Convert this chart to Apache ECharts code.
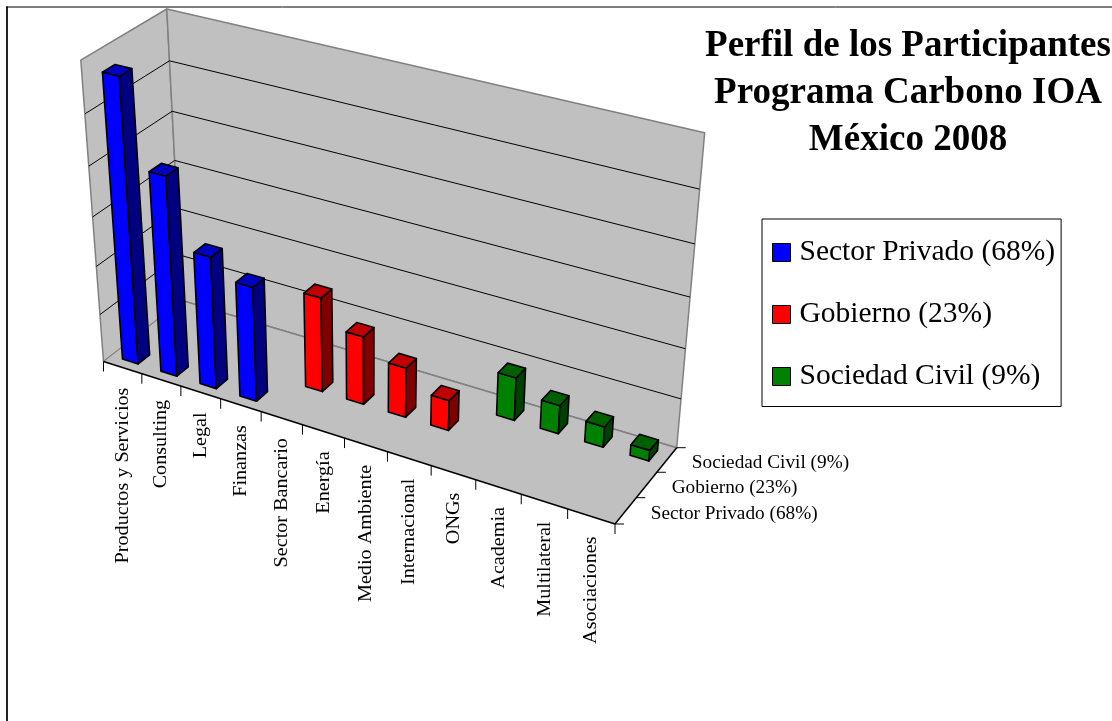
<!DOCTYPE html>
<html><head><meta charset="utf-8">
<style>html,body{margin:0;padding:0;background:#fff}#c{width:1112px;height:721px}</style>
<script src="https://cdn.jsdelivr.net/npm/echarts@6/dist/echarts.min.js"></script>
</head><body><div id="c"></div>
<script>
const categories = ['Productos y Servicios','Consulting','Legal','Finanzas','Sector Bancario','Energía','Medio Ambiente','Internacional','ONGs','Academia','Multilateral','Asociaciones'];
const rowNames = ['Sector Privado (68%)','Gobierno (23%)','Sociedad Civil (9%)'];
const privado = [28.7, 20.3, 13.5, 11.7];
const gobierno = [9.7, 7, 5.1, 3.1];
const civil = [4.4, 2.9, 2.1, 1.1];
const valueMax = 30, valueStep = 5;

const FONT = '"Liberation Serif","Times New Roman",serif';
const chart = echarts.init(document.getElementById('c'));

// camera: four floor corners, the vertical vanishing point and the wall top fix a projective map
const P00=[103.5,361.5,1],P10=[615,524,1],P01=[182,300.5,1],P11=[676.7,447.7,1],VP=[370,3900,1],wallTopY=9;
function det(a,b,c){return a[0]*(b[1]*c[2]-b[2]*c[1])-a[1]*(b[0]*c[2]-b[2]*c[0])+a[2]*(b[0]*c[1]-b[1]*c[0]);}
const neg=v=>v.map(t=>-t);
const d0=det(P10,P01,neg(P00));
const p=det(P11,P01,neg(P00))/d0, q=det(P10,P11,neg(P00))/d0, r=det(P10,P01,P11)/d0;
const D=P00.map(t=>t*r), A=P10.map((t,i)=>t*p-D[i]), B=P01.map((t,i)=>t*q-D[i]);
const K=[0,1,2].map(i=>B[i]+D[i]);
const cScale=(wallTopY*K[2]-K[1])/(VP[1]-wallTopY);
const C=VP.map(t=>t*cScale);
function proj(x,y,z){
  const h=[0,1,2].map(i=>x*A[i]+y*B[i]+z*C[i]+D[i]);
  return [h[0]/h[2],h[1]/h[2]];
}
const rows=3, barW=0.41, barD=0.43;

function poly(pts,fill,stroke,lw){
  return {type:'polygon',shape:{points:pts},style:{fill:fill,stroke:stroke||'#000',lineWidth:lw==null?1.6:lw,lineJoin:'round'}};
}
function line(a,b,color,lw){
  return {type:'line',shape:{x1:a[0],y1:a[1],x2:b[0],y2:b[1]},style:{stroke:color,lineWidth:lw||1}};
}
function barRender(row,cols){
  return function(params,api){
    const cs=params.coordSys;
    const cat=api.value(0), val=api.value(1);
    const c=api.coord([cat,val]), b=api.size([1,0])[0]/cs.width;
    const cx=(c[0]-cs.x)/cs.width, z=(cs.y+cs.height-c[1])/cs.height;
    const x0=cx-b*barW/2, x1=cx+b*barW/2;
    const y0=(row+0.5-barD/2)/rows, y1=(row+0.5+barD/2)/rows;
    return {type:'group',children:[
      poly([proj(x0,y0,0),proj(x1,y0,0),proj(x1,y0,z),proj(x0,y0,z)],cols[0]),
      poly([proj(x1,y0,0),proj(x1,y1,0),proj(x1,y1,z),proj(x1,y0,z)],cols[1]),
      poly([proj(x0,y0,z),proj(x1,y0,z),proj(x1,y1,z),proj(x0,y1,z)],cols[2])
    ]};
  };
}
function frameRender(params,api){
  if(params.dataIndex!==0) return null;
  const cs=params.coordSys;
  const kids=[];
  const wall='#C0C0C0', edge='#808080';
  kids.push(poly([proj(0,0,0),proj(0,1,0),proj(0,1,1),proj(0,0,1)],wall,edge,1.5));
  kids.push(poly([proj(0,1,0),proj(1,1,0),proj(1,1,1),proj(0,1,1)],wall,edge,1.5));
  kids.push(poly([proj(0,0,0),proj(1,0,0),proj(1,1,0),proj(0,1,0)],wall,edge,0));
  const steps=Math.round(valueMax/valueStep);
  for(let i=1;i<=steps-1;i++){
    const z=api.coord([0,i*valueStep]); const zz=(cs.y+cs.height-z[1])/cs.height;
    kids.push(line(proj(0,0,zz),proj(0,1,zz),'#000',1));
    kids.push(line(proj(0,1,zz),proj(1,1,zz),'#000',1));
  }
  kids.push(line(proj(0,1,0),proj(1,1,0),edge,1.5));
  kids.push(line(proj(0,1,0),proj(0,0,0),edge,1));
  kids.push(line(proj(0,0,0),proj(1,0,0),'#000',1.5));
  kids.push(line(proj(1,0,0),proj(1,1,0),'#000',1.5));
  for(let i=0;i<=categories.length;i++){
    const a=proj(i/categories.length,0,0);
    kids.push(line(a,[a[0],a[1]+10],'#000',1));
  }
  for(let i=0;i<=rows;i++){
    const a=proj(1,i/rows,0);
    kids.push(line(a,[a[0]+9,a[1]],'#000',1));
  }
  categories.forEach((t,i)=>{
    const a=proj((i+0.5)/categories.length,0,0);
    kids.push({type:'text',x:a[0]+0.5,y:a[1]+20,rotation:Math.PI/2,scaleX:1.12,style:{text:t,font:'18px '+FONT,fill:'#000',align:'right',verticalAlign:'middle'}});
  });
  rowNames.forEach((t,i)=>{
    const a=proj(1,(i+0.5)/rows,0);
    kids.push({type:'text',x:a[0]+25,y:a[1]+3.5,scaleX:1.07,style:{text:t,font:'18px '+FONT,fill:'#000',align:'left',verticalAlign:'middle'}});
  });
  return {type:'group',children:kids};
}
const series=[{type:'custom',name:'marco',silent:true,renderItem:frameRender,data:categories.map((c,i)=>[i,0]),z:1,encode:{x:0,y:1}}];
const groups=[
 {name:rowNames[2],row:2,data:civil,start:8,cols:['#008000','#004000','#006000']},
 {name:rowNames[1],row:1,data:gobierno,start:4,cols:['#FF0000','#800000','#C00000']},
 {name:rowNames[0],row:0,data:privado,start:0,cols:['#0000FF','#000080','#0000C0']}
];
groups.forEach((g,k)=>series.push({type:'custom',name:g.name,z:2+k,itemStyle:{color:g.cols[0]},
  renderItem:barRender(g.row,g.cols),encode:{x:0,y:1},data:g.data.map((v,i)=>[g.start+i,v])}));

chart.setOption({
  animation:false,backgroundColor:'#fff',
  grid:{left:20,top:20,right:20,bottom:20,show:false},
  xAxis:{type:'category',data:categories,show:false},
  yAxis:{type:'value',min:0,max:valueMax,interval:valueStep,show:false},
  title:{text:'Perfil de los Participantes\nPrograma Carbono IOA\nMéxico 2008',left:903,top:18,textAlign:'center',
    textStyle:{fontFamily:FONT,fontWeight:'bold',fontSize:37,lineHeight:47,color:'#000',align:'center'}},
  legend:{data:[rowNames[0],rowNames[1],rowNames[2]],orient:'vertical',left:762,top:219,padding:[18.5,6,15,10],itemGap:32,
    itemWidth:18,itemHeight:18,borderColor:'#000',borderWidth:1,selectedMode:false,icon:'rect',
    itemStyle:{borderColor:'#000',borderWidth:1},textStyle:{fontFamily:FONT,fontSize:29.5,color:'#000',padding:[0,0,0,4]}},
  graphic:[
    {type:'line',silent:true,shape:{x1:7,y1:721,x2:7,y2:6.5},style:{stroke:'#222',lineWidth:2}},
    {type:'line',silent:true,shape:{x1:6,y1:7,x2:1112,y2:7},style:{stroke:'#000',lineWidth:1}}
  ],
  series:series
});
</script></body></html>
